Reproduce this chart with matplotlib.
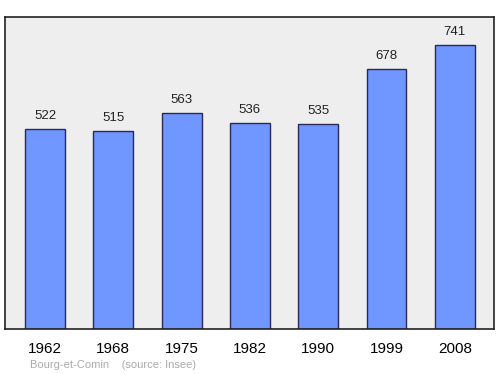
import matplotlib
matplotlib.use('Agg')
import matplotlib.pyplot as plt

years = ["1962", "1968", "1975", "1982", "1990", "1999", "2008"]
population = [522, 515, 563, 536, 535, 678, 741]

plt.rcParams['font.family'] = ['Liberation Sans', 'DejaVu Sans']

fig = plt.figure(figsize=(5, 3.74), dpi=100)
ax = fig.add_axes([0.01, 0.1203, 0.978, 0.8342])
ax.set_facecolor("#eeeeee")

x = list(range(len(years)))
ax.bar(x, population, width=0.585, color="#7096ff", edgecolor="#2a2a55", linewidth=1.0, zorder=2)

for i, v in enumerate(population):
    ax.annotate(str(v), (i, v), textcoords="offset points", xytext=(0, 5),
                ha="center", va="bottom", fontsize=9.5, color="#222222")

ax.set_xlim(-0.586, 6.574)
ax.set_ylim(0, 813)
ax.set_yticks([])
ax.set_xticks(x)
ax.set_xticklabels(years, fontsize=11)
ax.tick_params(axis="x", length=0, pad=9)
for s in ax.spines.values():
    s.set_linewidth(1.2)
    s.set_color("#222222")

fig.text(0.06, 0.016, "Bourg-et-Comin    (source: Insee)", fontsize=8, color="#aaaaaa")

plt.savefig("out.png", dpi=100)
